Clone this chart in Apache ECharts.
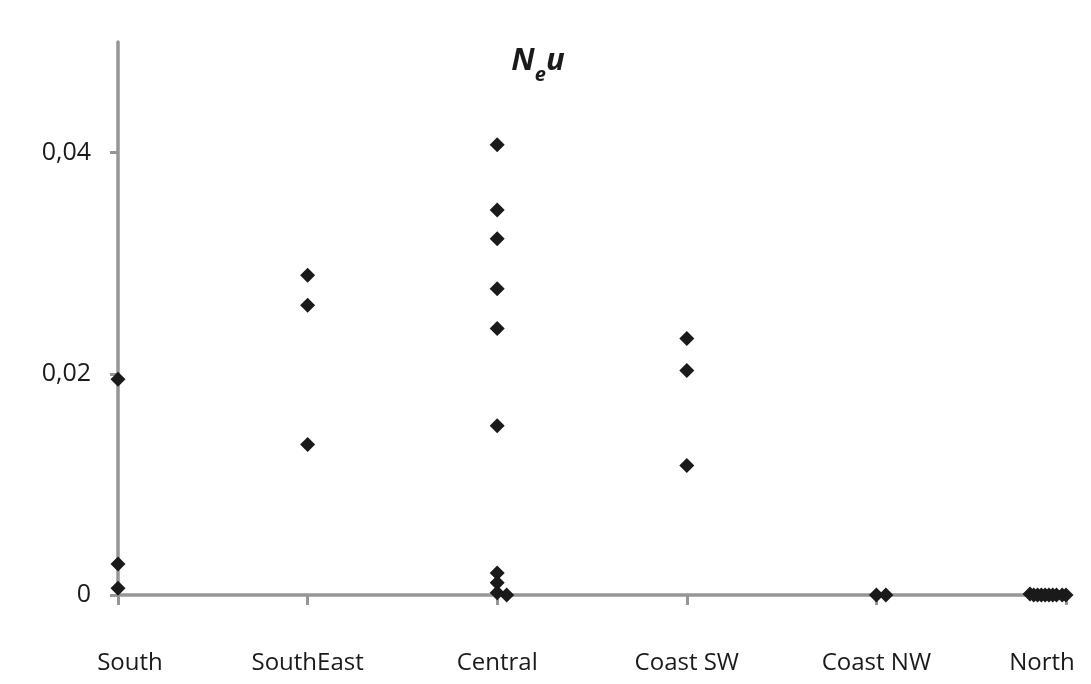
<!DOCTYPE html>
<html>
<head>
<meta charset="utf-8">
<script src="https://cdn.jsdelivr.net/npm/echarts@6/dist/echarts.min.js"></script>
<style>
html,body{margin:0;padding:0;background:#fff;}
#chart{width:1091px;height:684px;}
</style>
</head>
<body>
<div id="chart"></div>
<script>
// Categories (x positions 0..5)
const categories = ['South', 'SouthEast', 'Central', 'Coast SW', 'Coast NW', 'North'];
// Y tick values
const yTicks = [0, 0.02, 0.04];

// Values per region (N_e u) and small x offsets from the category position
const southVals = [0.0195, 0.0028, 0.0006];
const southOff = [0, 0, 0];
const southEastVals = [0.0289, 0.0262, 0.0136];
const southEastOff = [0, 0, 0];
const centralVals = [0.0407, 0.0348, 0.0322, 0.0277, 0.0241, 0.0153, 0.0020, 0.0011, 0.0002, 0.0];
const centralOff = [0, 0, 0, 0, 0, 0, 0, 0, 0, 0.05];
const coastSWVals = [0.0232, 0.0203, 0.0117];
const coastSWOff = [0, 0, 0];
const coastNWVals = [0.0, 0.0];
const coastNWOff = [0, 0.05];
const northVals = [0.0001, 0.0, 0.0, 0.0, 0.0, 0.0, 0.0, 0.0, 0.0, 0.0];
const northOff = [-0.19, -0.17, -0.15, -0.13, -0.11, -0.09, -0.07, -0.05, -0.02, 0];

const groups = [
  [southVals, southOff],
  [southEastVals, southEastOff],
  [centralVals, centralOff],
  [coastSWVals, coastSWOff],
  [coastNWVals, coastNWOff],
  [northVals, northOff]
];
const points = [];
groups.forEach((g, i) => {
  g[0].forEach((v, j) => points.push([i + g[1][j], v]));
});

const FONT = '"Open Sans", "Noto Sans", sans-serif';
const axisColor = '#969696';

const chart = echarts.init(document.getElementById('chart'), null, {renderer: 'canvas'});
chart.setOption({
  backgroundColor: '#ffffff',
  animation: false,
  title: {
    text: '{a|N}{b|e}{a|u}',
    left: 533,
    top: 32,
    textAlign: 'center',
    textStyle: {
      rich: {
        a: {fontFamily: FONT, fontSize: 31, fontWeight: 'bold', fontStyle: 'italic', color: '#1a1a1a', verticalAlign: 'bottom', lineHeight: 40},
        b: {fontFamily: FONT, fontSize: 20, fontWeight: 'bold', fontStyle: 'italic', color: '#1a1a1a', verticalAlign: 'bottom', lineHeight: 40, padding: [0, 0, -8, 0]}
      }
    }
  },
  grid: {left: 118, right: 25, top: 42, bottom: 89, containLabel: false},
  xAxis: {
    type: 'value',
    min: 0,
    max: 5,
    interval: 1,
    axisLine: {show: true, onZero: false, lineStyle: {color: axisColor, width: 3.5}},
    axisTick: {show: true, length: 10, lineStyle: {color: axisColor, width: 3}},
    splitLine: {show: false},
    axisLabel: {
      margin: 56,
      color: '#1a1a1a',
      fontFamily: FONT,
      fontSize: 24,
      formatter: function (v) {
        const i = Math.round(v);
        if (i === 0) return '{s|' + categories[i] + '}';
        if (i === categories.length - 1) return '{n|' + categories[i] + '}';
        return categories[i] || '';
      },
      rich: {
        s: {fontFamily: FONT, fontSize: 24, color: '#1a1a1a', padding: [0, 0, 0, 24]},
        n: {fontFamily: FONT, fontSize: 24, color: '#1a1a1a', padding: [0, 48, 0, 0]}
      }
    }
  },
  yAxis: {
    type: 'value',
    min: 0,
    max: 0.05,
    interval: 0.02,
    axisLine: {show: true, onZero: false, lineStyle: {color: axisColor, width: 3.5}},
    axisTick: {show: true, length: 8, customValues: yTicks, lineStyle: {color: axisColor, width: 3}},
    splitLine: {show: false},
    axisLabel: {
      margin: 27,
      color: '#1a1a1a',
      fontFamily: FONT,
      fontSize: 25,
      customValues: yTicks,
      formatter: function (v) {
        if (v === 0) return '0';
        return v.toFixed(2).replace('.', ',');
      }
    }
  },
  series: [{
    type: 'scatter',
    data: points,
    symbol: 'diamond',
    symbolSize: [15, 15],
    clip: false,
    itemStyle: {color: '#1a1a1a', opacity: 1}
  }]
});
</script>
</body>
</html>
